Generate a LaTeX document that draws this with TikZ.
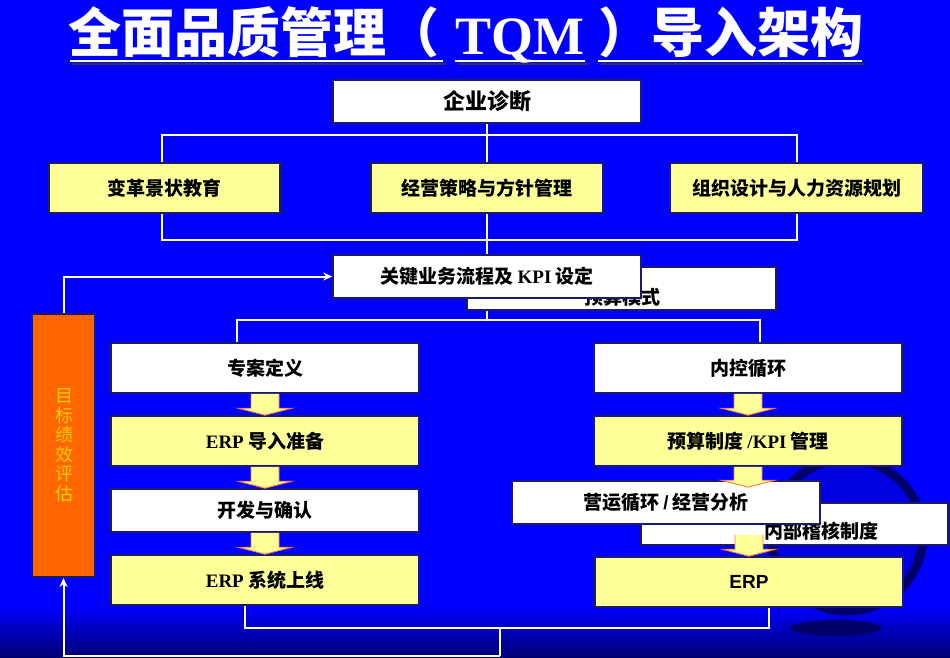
\documentclass[tikz,border=0pt]{standalone}
\usepackage{fontspec}
\newfontfamily\cjk{Noto Sans CJK SC}
\newfontfamily\serifb{Liberation Serif}
\newfontfamily\sansb{Liberation Sans}
\usetikzlibrary{calc,arrows.meta}
\pgfdeclarelayer{bg}\pgfdeclarelayer{lines}\pgfdeclarelayer{front}
\pgfsetlayers{bg,lines,main,front}
\definecolor{bgblue}{HTML}{0000FF}
\definecolor{botnavy}{HTML}{000070}
\definecolor{boxyel}{HTML}{FFFF99}
\definecolor{navy}{HTML}{1A1A6E}
\definecolor{orng}{HTML}{FF6600}
\definecolor{gold}{HTML}{FFCC00}
\definecolor{goldsh}{HTML}{7A4A00}
\definecolor{tshadow}{HTML}{333344}
\definecolor{globefill}{HTML}{0000E0}
\definecolor{globering}{HTML}{00006A}
\definecolor{arredge}{HTML}{FF7A30}
\tikzset{
  box/.style={draw=navy, line width=1.6pt, inner sep=0pt, text=black,
    font=\cjk\bfseries\fontsize{19}{22}\selectfont},
  wbox/.style={box, fill=white},
  ybox/.style={box, fill=boxyel},
  conn/.style={draw=white, line width=2pt},
  tip/.style={-{Stealth[length=9pt,width=8pt]}},
  titlecjk/.style={inner sep=0pt, font=\cjk\bfseries\fontsize{53}{60}\selectfont},
  titlelat/.style={inner sep=0pt, font=\serifb\bfseries\fontsize{54}{60}\selectfont},
}
\newcommand\blockarr[2]{%
  \fill[boxyel] let \p1=(#1), \p2=(#2) in
    (\x1-14pt,\y1) -- (\x1-14pt,\y2+7pt) -- (\x1-27pt,\y2+7pt) -- (\x1,\y2)
    -- (\x1+27pt,\y2+7pt) -- (\x1+14pt,\y2+7pt) -- (\x1+14pt,\y1) -- cycle;
  \draw[arredge, line width=0.9pt, line join=miter] let \p1=(#1), \p2=(#2) in
    (\x1-14pt,\y1) -- (\x1-14pt,\y2+7pt) -- (\x1-27pt,\y2+7pt) -- (\x1,\y2)
    -- (\x1+27pt,\y2+7pt) -- (\x1+14pt,\y2+7pt) -- (\x1+14pt,\y1);}
\begin{document}
\begin{tikzpicture}[x=1pt,y=-1pt]
\useasboundingbox (0,0) rectangle (950,658);
% background
\begin{pgfonlayer}{bg}
\fill[bgblue] (0,0) rectangle (950,658);
\shade[top color=bgblue, bottom color=botnavy] (0,606) rectangle (950,658);
\fill[globefill] (847,535) circle[radius=80pt];
\draw[globering, line width=9pt] (847,535) circle[radius=76pt];
\fill[globering] (836,628) ellipse[x radius=46pt, y radius=8pt];
\end{pgfonlayer}

% title
\draw[tshadow, line width=2.5pt] (72,64) -- (446,64) (458,64) -- (588,64) (601,64) -- (865,64);
\node[titlecjk, text=white, anchor=base west] (t1) at (68,53) {全面品质管理（};
\node[titlelat, text=white, anchor=base] (t2) at (520,55) {TQM};
\node[titlecjk, text=white, anchor=base east] (t3) at (864,53) {）导入架构};
\draw[white, line width=2.5pt] (70,61) -- (443,61) (455,61) -- (585,61) (598,61) -- (862,61);

% top section
\node[wbox, minimum width=308pt, minimum height=43pt, font=\cjk\bfseries\fontsize{22}{24}\selectfont] (diag) at (487,101.5) {企业诊断};
\node[ybox, minimum width=231pt, minimum height=50pt] (b1) at (164.5,188) {变革景状教育};
\node[ybox, minimum width=232pt, minimum height=50pt] (b2) at (487,188) {经营策略与方针管理};
\node[ybox, minimum width=253pt, minimum height=50pt] (b3) at (796.5,188) {组织设计与人力资源规划};

% middle
\node[wbox, minimum width=309pt, minimum height=43pt] (budg) at (621.5,288.5) {};
\node[inner sep=0pt, font=\cjk\bfseries\fontsize{19}{22}\selectfont] (budgt) at (622,297) {预算模式};
\node[wbox, minimum width=308pt, minimum height=43pt] (kpi) at (487,276.5) {关键业务流程及 {\serifb\bfseries KPI} 设定};

% left column
\node[wbox, minimum width=308pt, minimum height=50pt] (l1) at (265,368) {专案定义};
\node[ybox, minimum width=308pt, minimum height=50pt] (l2) at (265,441) {{\serifb\bfseries ERP} 导入准备};
\node[wbox, minimum width=308pt, minimum height=43pt] (l3) at (265,510.5) {开发与确认};
\node[ybox, minimum width=308pt, minimum height=50pt] (l4) at (265,580) {{\serifb\bfseries ERP} 系统上线};

% right column
\node[wbox, minimum width=308pt, minimum height=50pt] (r1) at (748,368) {内控循环};
\node[ybox, minimum width=308pt, minimum height=50pt] (r2) at (748,441) {预算制度 {\serifb\bfseries /KPI} 管理};
\node[wbox, minimum width=307pt, minimum height=42pt] (r3b) at (794.5,524) {};
\node[inner sep=0pt, font=\cjk\bfseries\fontsize{19}{22}\selectfont] (r3bt) at (821,531) {内部稽核制度};
\node[wbox, minimum width=308pt, minimum height=43pt] (r3) at (666,502.5) {营运循环 {\sansb\bfseries /} 经营分析};
\node[ybox, minimum width=308pt, minimum height=50pt] (r4) at (749,582) {{\sansb\bfseries ERP}};

% orange box
\node[draw=navy, line width=2pt, fill=orng, minimum width=63pt, minimum height=263pt, inner sep=0pt] (orange) at (63.5,445.5) {};
\node[text=gold, align=center, inner sep=0pt, font=\cjk\fontsize{18}{19.5}\selectfont] (ord) at (64,445) {目\\标\\绩\\效\\评\\估};

% connectors
\begin{pgfonlayer}{lines}
\coordinate (ta) at (487,135);
\draw[conn] ([xshift=-3pt]b1.north) |- (ta) -| (b3.north);
\draw[conn] (diag.south) -- (b2.north);
\coordinate (tb) at (487,240);
\draw[conn] ([xshift=-3pt]b1.south) |- (tb) -| (b3.south);
\draw[conn] (b2.south) -- (kpi.north);
\coordinate (tc) at (490,320);
\draw[conn] (kpi.south) -- (kpi.south |- tc);
\draw[conn] ([xshift=-28pt]l1.north) |- (tc) -| ([xshift=12pt]r1.north);
\coordinate (td) at (500,628);
\draw[conn] ([xshift=-20pt]l4.south) |- (td) -| ([xshift=20pt]r4.south);
\coordinate (te) at (500,656);
\draw[conn] (td) -- (te);
\end{pgfonlayer}
\draw[conn, tip] (te) -| (orange.south);
\draw[conn, tip] (orange.north) |- (kpi.west);

% block arrows
\blockarr{l1.south}{l2.north}
\blockarr{l2.south}{l3.north}
\blockarr{l3.south}{l4.north}
\blockarr{r1.south}{r2.north}
\blockarr{r2.south}{[yshift=-7pt]r3.north}
\blockarr{[yshift=-10pt]r3.south -| r4.north}{r4.north}
\end{tikzpicture}
\end{document}
